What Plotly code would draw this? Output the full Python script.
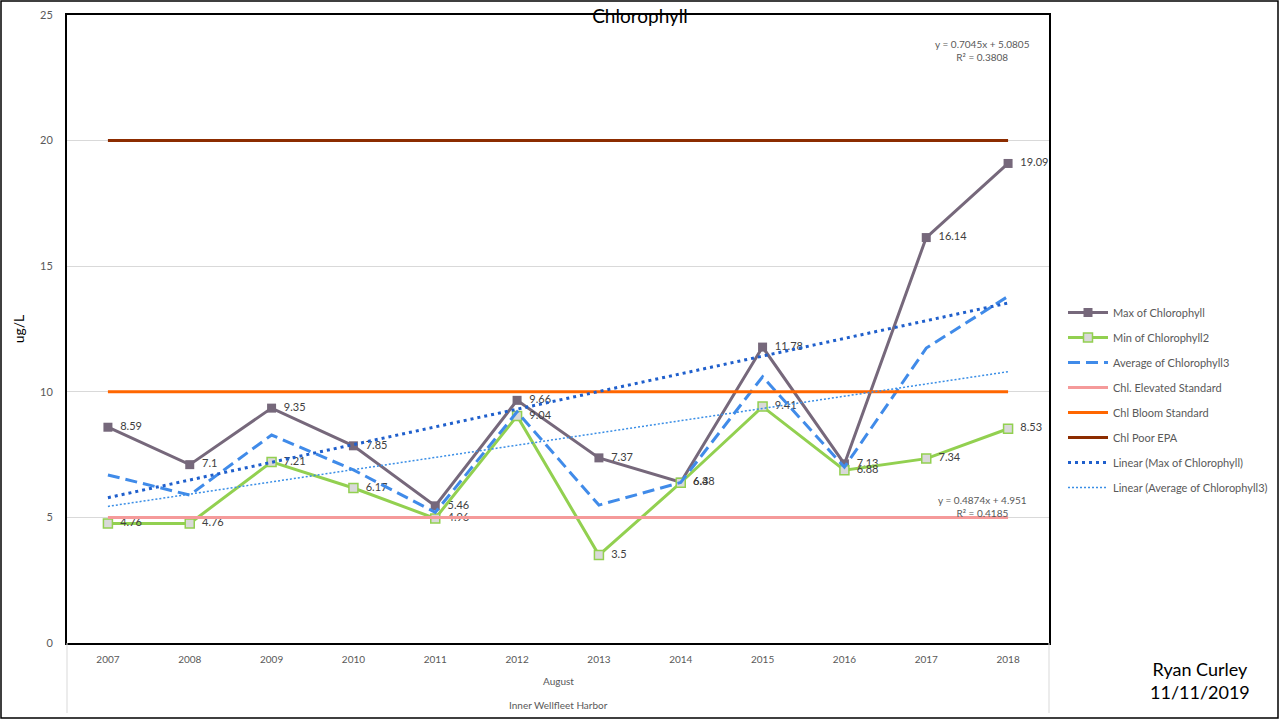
import plotly.graph_objects as go

years = [2007, 2008, 2009, 2010, 2011, 2012, 2013, 2014, 2015, 2016, 2017, 2018]
max_chl = [8.59, 7.1, 9.35, 7.85, 5.46, 9.66, 7.37, 6.4, 11.78, 7.13, 16.14, 19.09]
min_chl = [4.76, 4.76, 7.21, 6.17, 4.96, 9.04, 3.5, 6.38, 9.41, 6.88, 7.34, 8.53]
avg_chl = [6.69, 5.89, 8.28, 6.89, 5.2, 9.2, 5.49, 6.39, 10.6, 7.0, 11.74, 13.8]

elevated_std = 5
bloom_std = 10
poor_epa = 20

trend_max = (0.7045, 5.0805, 0.3808)
trend_avg = (0.4874, 4.951, 0.4185)

FONT = "Lato, Open Sans, sans-serif"
GRAY = "#595959"
NB = "\u00a0\u00a0"

fig = go.Figure()

fig.add_trace(go.Scatter(
    x=years, y=max_chl, name="Max of Chlorophyll", mode="lines+markers+text",
    line=dict(color="#76687B", width=3),
    marker=dict(symbol="square", size=9, color="#76687B"),
    text=[NB + str(v) for v in max_chl], textposition="middle right",
    textfont=dict(size=11, color="#404040", family=FONT), cliponaxis=False,
    legendgroup="g1"))

fig.add_trace(go.Scatter(
    x=years, y=min_chl, name="Min of Chlorophyll2", mode="lines+markers+text",
    line=dict(color="#92D050", width=3),
    marker=dict(symbol="square", size=9, color="#D9D9D9", line=dict(color="#92D050", width=1.5)),
    text=[NB + str(v) for v in min_chl], textposition="middle right",
    textfont=dict(size=11, color="#404040", family=FONT), cliponaxis=False,
    legendgroup="g2"))

fig.add_trace(go.Scatter(
    x=years, y=avg_chl, name="Average of Chlorophyll3", mode="lines",
    line=dict(color="#408BE9", width=3, dash="12px,6px"),
    legendgroup="g3"))

fig.add_trace(go.Scatter(
    x=years, y=[elevated_std for _ in years], name="Chl. Elevated Standard", mode="lines",
    line=dict(color="#F59A9A", width=3), legendgroup="g4"))

fig.add_trace(go.Scatter(
    x=years, y=[bloom_std for _ in years], name="Chl Bloom Standard", mode="lines",
    line=dict(color="#FF6600", width=3), legendgroup="g5"))

fig.add_trace(go.Scatter(
    x=years, y=[poor_epa for _ in years], name="Chl Poor EPA", mode="lines",
    line=dict(color="#8C2C00", width=3), legendgroup="g6"))

fig.add_trace(go.Scatter(
    x=years, y=[trend_max[0] * (i + 1) + trend_max[1] for i in range(len(years))],
    name="Linear (Max of Chlorophyll)", mode="lines",
    line=dict(color="#1F5FCC", width=3, dash="3px,4px"), legendgroup="g7"))

fig.add_trace(go.Scatter(
    x=years, y=[trend_avg[0] * (i + 1) + trend_avg[1] for i in range(len(years))],
    name="Linear (Average of Chlorophyll3)", mode="lines",
    line=dict(color="#3A8EE6", width=1.5, dash="2px,2px"), legendgroup="g8"))

PL, PR, PT, PB = 67, 231, 15, 77
W, H = 1280, 720
pw = W - PL - PR
ph = H - PT - PB

def px_x(p):
    return (p - PL) / pw

def px_y(p):
    return (H - PB - p) / ph

annotations = [
    dict(text=f"y = {trend_max[0]}x + {trend_max[1]}<br>R² = {trend_max[2]}",
         x=px_x(982), y=px_y(51), xref="paper", yref="paper", showarrow=False,
         xanchor="center", yanchor="middle", align="center",
         font=dict(size=10, color=GRAY, family=FONT)),
    dict(text=f"y = {trend_avg[0]}x + {trend_avg[1]}<br>R² = {trend_avg[2]}",
         x=px_x(982), y=px_y(506), xref="paper", yref="paper", showarrow=False,
         xanchor="center", yanchor="middle", align="center",
         font=dict(size=10, color=GRAY, family=FONT)),
    dict(text="August", x=0.5, y=px_y(681), xref="paper", yref="paper", showarrow=False,
         xanchor="center", yanchor="middle", font=dict(size=10, color=GRAY, family=FONT)),
    dict(text="Inner Wellfleet Harbor", x=0.5, y=px_y(705), xref="paper", yref="paper",
         showarrow=False, xanchor="center", yanchor="middle",
         font=dict(size=10, color=GRAY, family=FONT)),
    dict(text="Ryan Curley<br>11/11/2019", x=px_x(1200), y=px_y(680), xref="paper", yref="paper",
         showarrow=False, xanchor="center", yanchor="middle", align="center",
         font=dict(size=18, color="#000000", family=FONT)),
]

shapes = [
    dict(type="line", xref="paper", yref="paper", x0=0, x1=0, y0=0, y1=px_y(713),
         line=dict(color="#D9D9D9", width=1)),
    dict(type="line", xref="paper", yref="paper", x0=1, x1=1, y0=0, y1=px_y(713),
         line=dict(color="#D9D9D9", width=1)),
    dict(type="rect", xref="paper", yref="paper", x0=px_x(1), x1=px_x(1278),
         y0=px_y(718), y1=px_y(1), line=dict(color="#000000", width=1.5), layer="below"),
]

fig.update_layout(
    width=W, height=H,
    margin=dict(l=PL, r=PR, t=PT, b=PB, autoexpand=False),
    paper_bgcolor="white", plot_bgcolor="white",
    font=dict(family=FONT, color=GRAY),
    title=dict(text="Chlorophyll", x=0.5, xref="container", y=1 - 16 / H, yref="container",
               xanchor="center", yanchor="middle", font=dict(size=19, color="#000000", family=FONT)),
    showlegend=True,
    legend=dict(x=px_x(1063), y=px_y(400), xanchor="left", yanchor="middle",
                font=dict(size=11, color=GRAY, family=FONT), tracegroupgap=6,
                traceorder="grouped", bgcolor="rgba(0,0,0,0)", itemwidth=40),
    annotations=annotations,
    shapes=shapes,
)

fig.update_xaxes(range=[2006.5, 2018.5], tickvals=years, ticktext=[str(y) for y in years],
                 showgrid=False, zeroline=False, showline=True, mirror=True, automargin=False,
                 linecolor="#000000", linewidth=2, ticks="", ticklabelstandoff=6,
                 tickfont=dict(size=10, color=GRAY, family=FONT))
fig.update_yaxes(range=[0, 25], dtick=5, showgrid=True, gridcolor="#D9D9D9", gridwidth=1,
                 zeroline=False, showline=True, mirror=True, linecolor="#000000", linewidth=2,
                 ticks="", ticklabelstandoff=10, automargin=False,
                 tickfont=dict(size=11, color=GRAY, family=FONT),
                 title=dict(text="ug/L", standoff=12, font=dict(size=14, color="#000000", family=FONT)))

fig.write_html("out.html", config={"displayModeBar": False},
               post_script="document.body.style.margin='0px';")
